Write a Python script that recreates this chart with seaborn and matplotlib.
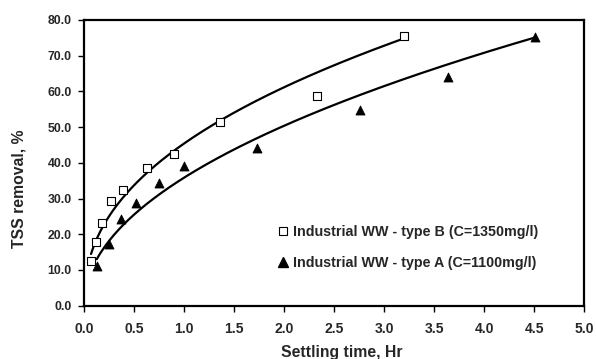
import numpy as np
import pandas as pd
import matplotlib
matplotlib.use("Agg")
import matplotlib.pyplot as plt
import seaborn as sns
from matplotlib.lines import Line2D

sns.set_style("white")
plt.rcParams['font.family'] = ['Liberation Sans', 'DejaVu Sans']
plt.rcParams['font.weight'] = 'bold'

# Data
time_b = [0.07, 0.12, 0.177, 0.27, 0.387, 0.63, 0.903, 1.363, 2.327, 3.2]
tss_b = [12.5, 17.8, 23.1, 29.3, 32.4, 38.6, 42.5, 51.4, 58.8, 75.4]
time_a = [0.127, 0.25, 0.367, 0.517, 0.747, 1.0, 1.733, 2.763, 3.637, 4.51]
tss_a = [11.2, 17.3, 24.2, 28.7, 34.3, 39.0, 44.1, 54.8, 64.1, 75.1]

label_b = "Industrial WW - type B (C=1350mg/l)"
label_a = "Industrial WW - type A (C=1100mg/l)"

x_ticks = [0.0, 0.5, 1.0, 1.5, 2.0, 2.5, 3.0, 3.5, 4.0, 4.5, 5.0]
y_ticks = [0.0, 10.0, 20.0, 30.0, 40.0, 50.0, 60.0, 70.0, 80.0]

def power_trend(x, y):
    b, lna = np.polyfit(np.log(x), np.log(y), 1)
    xs = np.linspace(min(x), max(x), 200)
    return pd.DataFrame({"x": xs, "y": np.exp(lna) * xs ** b})

df_b = pd.DataFrame({"x": time_b, "y": tss_b})
df_a = pd.DataFrame({"x": time_a, "y": tss_a})
tr_b = power_trend(time_b, tss_b)
tr_a = power_trend(time_a, tss_a)

fig = plt.figure(figsize=(5.96, 3.59), dpi=100)
ax = fig.add_axes([0.141, 0.1485, 0.839, 0.796])

sns.lineplot(data=tr_b, x="x", y="y", ax=ax, color="black", linewidth=1.6, sort=False)
sns.lineplot(data=tr_a, x="x", y="y", ax=ax, color="black", linewidth=1.6, sort=False)
sns.scatterplot(data=df_b, x="x", y="y", ax=ax, marker="s", s=34, facecolor="white",
                edgecolor="black", linewidth=0.8, zorder=3)
sns.scatterplot(data=df_a, x="x", y="y", ax=ax, marker="^", s=42, color="black",
                edgecolor="black", linewidth=0.6, zorder=3)

ax.set_xlim(0, 5)
ax.set_ylim(0, 80)
ax.set_xticks(x_ticks)
ax.set_yticks(y_ticks)
ax.set_xticklabels([f"{v:.1f}" for v in x_ticks], fontsize=10, fontweight='bold')
ax.set_yticklabels([f"{v:.1f}" for v in y_ticks], fontsize=8.8, fontweight='bold')
ax.tick_params(axis='both', direction='out', length=4, width=1, color='black',
               bottom=True, left=True)
ax.tick_params(axis='x', pad=7.5)
ax.tick_params(axis='y', pad=5)
for sp in ax.spines.values():
    sp.set_visible(True)
    sp.set_color('black')
    sp.set_linewidth(1.6)

ax.set_xlabel("Settling time, Hr", fontsize=11.3, fontweight='bold')
ax.set_ylabel("TSS removal, %", fontsize=11.3, fontweight='bold')
ax.xaxis.set_label_coords(0.516, -0.136)
ax.yaxis.set_label_coords(-0.116, 0.41)

handles = [
    Line2D([], [], marker='s', linestyle='none', markersize=5.8, markerfacecolor='white',
           markeredgecolor='black', markeredgewidth=0.8),
    Line2D([], [], marker='^', linestyle='none', markersize=6.6, markerfacecolor='black',
           markeredgecolor='black'),
]
ax.legend(handles, [label_b, label_a], frameon=False, loc='center left',
          bbox_to_anchor=(0.373, 0.204), prop={'size': 10.3, 'weight': 'bold'},
          handlelength=0.8, handletextpad=0.3, labelspacing=1.2, borderpad=0)

fig.savefig("out.png", dpi=100)
